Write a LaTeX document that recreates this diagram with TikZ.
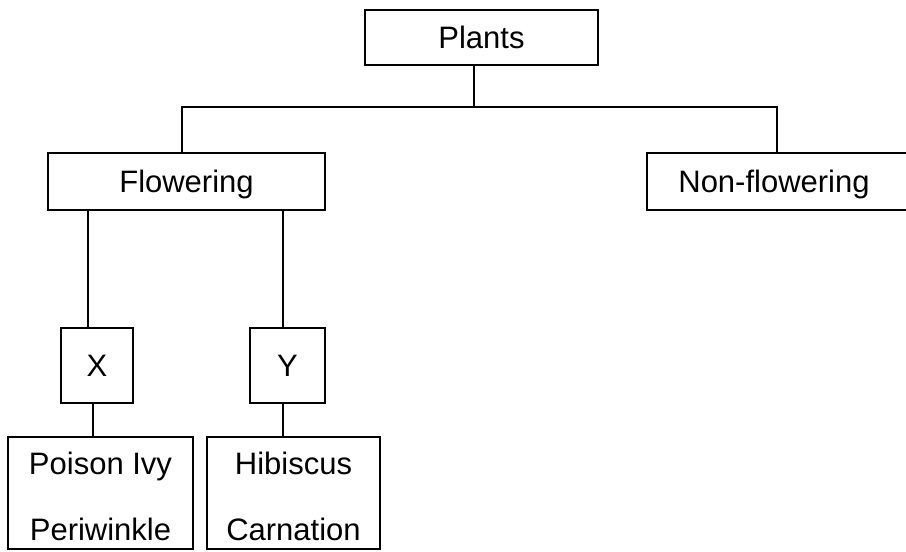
\documentclass[tikz,border=0pt]{standalone}
\usepackage{fontspec}
\setmainfont{Liberation Sans}
\begin{document}
\begin{tikzpicture}[x=1pt,y=-1pt,
  box/.style={draw, line width=1.6pt, inner sep=0pt, outer sep=0pt,
              text height=22pt, text depth=0pt, font=\fontsize{31}{37}\selectfont},
  conn/.style={line width=1.6pt},
  lbl/.style={anchor=base, inner sep=0pt, font=\fontsize{31}{37}\selectfont}]
\useasboundingbox (0,0) rectangle (906,552);
% boxes
\node[box, minimum width=233pt, minimum height=55pt] (plants) at (481.5,37.5) {Plants};
\node[box, minimum width=277pt, minimum height=57pt] (flowering) at (186.5,181.5) {Flowering};
\node[box, minimum width=270pt, minimum height=57pt] (nonflowering) at (782,181.5) {\hspace*{-16pt}Non-flowering};
\node[box, minimum width=72pt, minimum height=75pt] (xbox) at (97,365.5) {X};
\node[box, minimum width=75pt, minimum height=75pt] (ybox) at (287.5,365.5) {Y};
\node[box, minimum width=185pt, minimum height=112pt] (pbox) at (100.5,493) {};
\node[box, minimum width=173pt, minimum height=112pt] (hbox) at (293.5,493) {};
% texts of the bottom boxes
\node[lbl] (pivy) at (100.5,474) {Poison Ivy};
\node[lbl] (peri) at (100.5,540) {Periwinkle};
\node[lbl] (hibi) at (293.5,474) {Hibiscus};
\node[lbl] (carn) at (293.5,540) {Carnation};
% connector coordinates
\coordinate (hub) at (474,107);
\coordinate (lx) at (182,0);
\coordinate (rx) at (777,0);
\coordinate (ax) at (88,0);
\coordinate (ay) at (283,0);
\coordinate (bx) at (93,0);
% connectors
\draw[conn] (plants.south -| hub) -- (hub);
\draw[conn] (flowering.north -| lx) |- (hub) -| (nonflowering.north -| rx);
\draw[conn] (flowering.south -| ax) -- (xbox.north -| ax);
\draw[conn] (flowering.south -| ay) -- (ybox.north -| ay);
\draw[conn] (xbox.south -| bx) -- (pbox.north -| bx);
\draw[conn] (ybox.south -| ay) -- (hbox.north -| ay);
\end{tikzpicture}
\end{document}
